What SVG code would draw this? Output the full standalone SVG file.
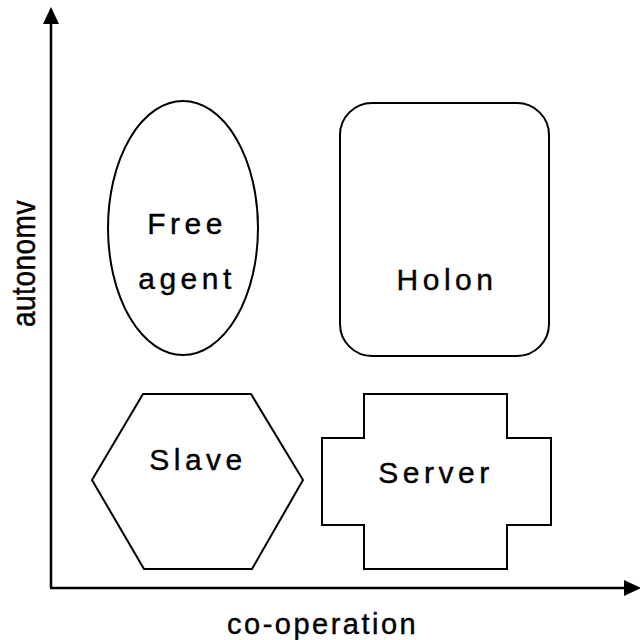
<svg xmlns="http://www.w3.org/2000/svg" width="640" height="640" viewBox="0 0 640 640">
  <defs>
    <marker id="arrow" markerUnits="userSpaceOnUse" markerWidth="18" markerHeight="16" refX="0" refY="8" orient="auto">
      <path d="M0,0 L17,8 L0,16 Z" fill="#000"/>
    </marker>
    <style>
      .shape { fill: #fff; stroke: #000; stroke-width: 2; }
      .label { font-family: "Liberation Sans", Arial, sans-serif; font-size: 30px; letter-spacing: 4.5px; fill: #000; stroke: #000; stroke-width: 0.4; text-anchor: middle; }
      .axis-label { font-family: "Liberation Sans", Arial, sans-serif; fill: #000; stroke: #000; stroke-width: 0.4; }
      .axis { stroke: #000; stroke-width: 2.5; fill: none; }
    </style>
  </defs>
  <rect width="640" height="640" fill="#fff"/>

  <!-- axes -->
  <g id="connectors">
    <line class="axis" x1="51" y1="588" x2="51" y2="24" marker-end="url(#arrow)"/>
    <line class="axis" x1="50" y1="588" x2="624" y2="588" marker-end="url(#arrow)"/>
  </g>

  <g id="axis-y-label">
    <text class="axis-label" font-size="28" letter-spacing="0.5" transform="translate(35,327) rotate(-90) scale(1,1.2)">autonomv</text>
  </g>
  <g id="axis-x-label">
    <text class="axis-label" font-size="29" letter-spacing="2.5" x="227" y="634">co-operation</text>
  </g>

  <g id="free-agent">
    <ellipse class="shape" cx="183" cy="228" rx="75" ry="127"/>
    <text class="label" x="187" y="234">Free</text>
    <text class="label" x="187" y="289">agent</text>
  </g>

  <g id="holon">
    <rect class="shape" x="340" y="103" width="209" height="253" rx="32" ry="32"/>
    <text class="label" x="447" y="290">Holon</text>
  </g>

  <g id="slave">
    <polygon class="shape" points="143,394 251,394 303,480 252,569 144,569 92,480"/>
    <text class="label" x="198" y="470">Slave</text>
  </g>

  <g id="server">
    <polygon class="shape" points="364,394 507,394 507,438 551,438 551,525 507,525 507,569 364,569 364,525 322,525 322,438 364,438"/>
    <text class="label" x="436" y="483">Server</text>
  </g>
</svg>
